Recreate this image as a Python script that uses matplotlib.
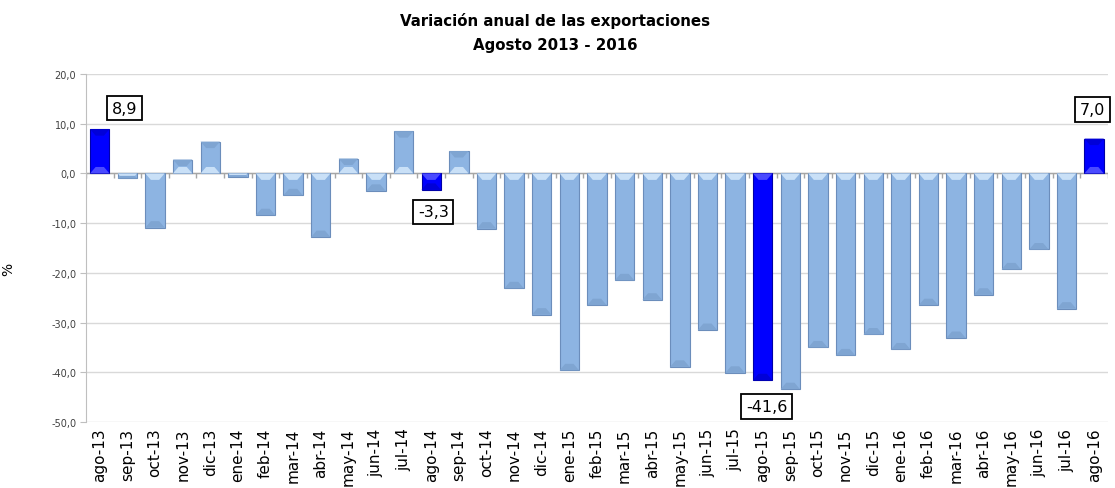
import numpy as np
import matplotlib.pyplot as plt
from matplotlib.patches import Polygon

# datos: variacion anual de las exportaciones (%)
meses = ['ago-13', 'sep-13', 'oct-13', 'nov-13', 'dic-13', 'ene-14', 'feb-14', 'mar-14',
         'abr-14', 'may-14', 'jun-14', 'jul-14', 'ago-14', 'sep-14', 'oct-14', 'nov-14',
         'dic-14', 'ene-15', 'feb-15', 'mar-15', 'abr-15', 'may-15', 'jun-15', 'jul-15',
         'ago-15', 'sep-15', 'oct-15', 'nov-15', 'dic-15', 'ene-16', 'feb-16', 'mar-16',
         'abr-16', 'may-16', 'jun-16', 'jul-16', 'ago-16']
variacion = [8.9, -1.0, -10.9, 2.8, 6.4, -0.7, -8.4, -4.4,
             -12.8, 3.0, -3.5, 8.5, -3.3, 4.5, -11.1, -23.1,
             -28.4, -39.6, -26.5, -21.5, -25.4, -38.9, -31.5, -40.1,
             -41.6, -43.4, -35.0, -36.6, -32.4, -35.4, -26.5, -33.1,
             -24.4, -19.3, -15.3, -27.2, 7.0]
destacados = ['ago-13', 'ago-14', 'ago-15', 'ago-16']
yticks = [20, 10, 0, -10, -20, -30, -40, -50]

x = np.arange(len(meses))
ancho = 0.7

fig = plt.figure(figsize=(11.15, 4.89), dpi=100)
ax = fig.add_axes([0.0771, 0.135, 0.9166, 0.7116])

for i, (m, v) in enumerate(zip(meses, variacion)):
    if m in destacados:
        cara, borde, luz, sombra = '#0000FF', '#0000A8', '#4A4AFF', '#0000D8'
    else:
        cara, borde, luz, sombra = '#8DB4E2', '#6B8DBB', '#C9E0F7', '#7FA5D2'
    ax.bar(i, v, width=ancho, color=cara, edgecolor=borde, linewidth=0.8, zorder=3)
    # biselado tipo Excel
    s = np.sign(v)
    d = min(1.3, abs(v) / 2) * s
    dx = min(0.2, abs(d) * 0.16)
    l, r = i - ancho / 2, i + ancho / 2
    ax.add_patch(Polygon([(l, 0), (r, 0), (r - dx, d), (l + dx, d)],
                         closed=True, facecolor=luz, edgecolor='none', zorder=4))
    ax.add_patch(Polygon([(l, v), (r, v), (r - dx, v - d), (l + dx, v - d)],
                         closed=True, facecolor=sombra, edgecolor='none', zorder=4))

# etiquetas con recuadro (desplazamiento en pixeles desde el extremo de la barra)
offsets = {'ago-13': (25, 21), 'ago-14': (2, 22), 'ago-15': (4, 26), 'ago-16': (-2, 29)}
for m, (ox, oy) in offsets.items():
    i = meses.index(m)
    v = variacion[i]
    ax.annotate(('%.1f' % v).replace('.', ','), xy=(i, v), xytext=(ox, -oy if v < 0 else oy),
                textcoords='offset pixels', ha='center', va='center', fontsize=11.5,
                bbox=dict(boxstyle='square,pad=0.3', fc='white', ec='black', lw=1.3),
                zorder=6, annotation_clip=False)

ax.set_xlim(-0.5, len(meses) - 0.5)
ax.set_ylim(-50, 20)
ax.set_yticks(yticks)
ax.set_yticklabels([('%.1f' % t).replace('.', ',') for t in yticks], fontsize=7, color='#404040')
ax.set_xticks(x)
ax.set_xticklabels(meses, rotation=90, fontsize=11)
ax.tick_params(axis='x', length=0, pad=4)
ax.tick_params(axis='y', length=4, color='#BFBFBF', pad=3)
ax.grid(axis='y', color='#D9D9D9', linewidth=1, zorder=0)
for lado in ['top', 'right', 'bottom']:
    ax.spines[lado].set_visible(False)
ax.spines['left'].set_color('#BFBFBF')
ax.axhline(0, color='#A6A6A6', linewidth=1, zorder=2)
ax.vlines(np.arange(-0.5, len(meses)), 0, -0.9, color='#A6A6A6', linewidth=1, zorder=2)

ax.set_ylabel('%', fontsize=10)
ax.yaxis.set_label_coords(-0.069, 0.44)
fig.text(0.498, 0.957, 'Variación anual de las exportaciones', ha='center', va='center',
         fontsize=10.8, fontweight='bold')
fig.text(0.498, 0.907, 'Agosto 2013 - 2016', ha='center', va='center',
         fontsize=10.8, fontweight='bold')

plt.savefig('out.png', dpi=100)
